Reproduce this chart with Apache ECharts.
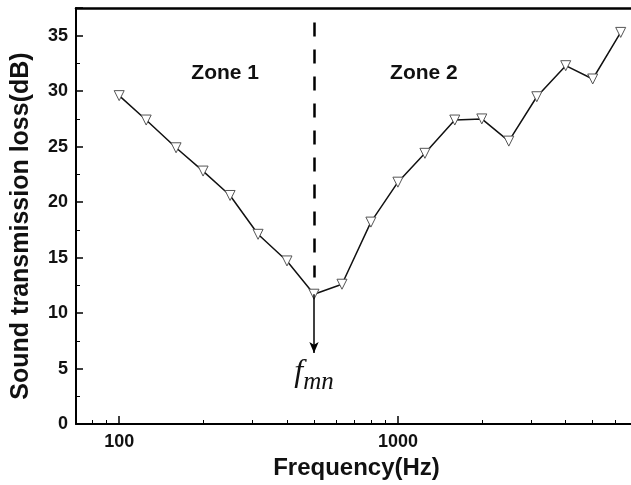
<!DOCTYPE html>
<html>
<head>
<meta charset="utf-8">
<style>
  html, body { margin: 0; padding: 0; background: #fff; }
  #main { width: 631px; height: 485px; }
</style>
<script src="https://cdn.jsdelivr.net/npm/echarts@6/dist/echarts.min.js"></script>
</head>
<body>
<div id="main"></div>
<script>
// 1/3 octave band centre frequencies (Hz)
var frequencies = [100, 125, 160, 200, 250, 315, 400, 500, 630, 800, 1000, 1250, 1600, 2000, 2500, 3150, 4000, 5000, 6300];
// sound transmission loss (dB)
var transmissionLoss = [29.6, 27.4, 24.9, 22.8, 20.6, 17.1, 14.7, 11.7, 12.6, 18.2, 21.8, 24.4, 27.4, 27.5, 25.5, 29.5, 32.3, 31.1, 35.3];

var xLabelValues = [100, 1000];
var xMinorTicks = [80, 90, 200, 300, 400, 500, 600, 700, 800, 900, 2000, 3000, 4000, 5000, 6000];

var fmn = 500;            // coincidence frequency marker
var dashTop = 36.2, dashBottom = 13.2;
var arrowTop = 11.7, arrowBottom = 6.4;
var fmnLabelY = 4.6;
var zones = [
    { name: 'Zone 1', freq: 240, y: 31.6 },
    { name: 'Zone 2', freq: 1240, y: 31.6 }
];

(function () {
    var chart = echarts.init(document.getElementById('main'), null, { renderer: 'canvas' });
    var fontFamily = '"Liberation Sans", Arial, sans-serif';

    var seriesData = frequencies.map(function (f, i) { return [f, transmissionLoss[i]]; });

    var xMin = 70, xMax = 6860;

    var option = {
        animation: false,
        backgroundColor: '#fff',
        grid: {
            left: 76, right: 0, top: 8, bottom: 61,
            show: false,
            containLabel: false
        },
        xAxis: [
            {
                type: 'log',
                logBase: 10,
                min: xMin,
                max: xMax,
                name: 'Frequency(Hz)',
                nameLocation: 'middle',
                nameGap: 31,
                nameTextStyle: { fontFamily: fontFamily, fontWeight: 'bold', fontSize: 24, color: '#111', padding: [0, 0, 0, 6] },
                axisLine: { show: true, lineStyle: { color: '#000', width: 2 } },
                axisTick: { show: true, inside: true, length: 4, customValues: xMinorTicks, lineStyle: { color: '#000', width: 1 } },
                axisLabel: {
                    show: true,
                    customValues: xLabelValues,
                    margin: 9,
                    fontFamily: fontFamily, fontWeight: 'bold', fontSize: 18, color: '#111',
                    formatter: function (v) { return String(Math.round(v)); }
                },
                splitLine: { show: false }
            },
            {
                type: 'log',
                logBase: 10,
                min: xMin,
                max: xMax,
                position: 'bottom',
                gridIndex: 0,
                axisLine: { show: false },
                axisTick: { show: true, inside: true, length: 8, customValues: xLabelValues, lineStyle: { color: '#000', width: 1.5 } },
                axisLabel: { show: false },
                splitLine: { show: false }
            },
            {
                type: 'log',
                logBase: 10,
                min: xMin,
                max: xMax,
                position: 'top',
                gridIndex: 0,
                axisLine: { show: true, lineStyle: { color: '#000', width: 2.5 } },
                axisTick: { show: false },
                axisLabel: { show: false },
                splitLine: { show: false }
            }
        ],
        yAxis: {
            type: 'value',
            min: 0,
            max: 37.5,
            interval: 5,
            name: 'Sound transmission loss(dB)',
            nameLocation: 'middle',
            nameGap: 42,
            nameTextStyle: { fontFamily: fontFamily, fontWeight: 'bold', fontSize: 25, color: '#111', padding: [0, 20, 0, 0] },
            axisLine: { show: true, lineStyle: { color: '#000', width: 2 } },
            axisTick: { show: true, inside: true, length: 7, lineStyle: { color: '#000', width: 1.5 } },
            minorTick: { show: true, splitNumber: 2, length: 4, lineStyle: { color: '#000', width: 1 } },
            axisLabel: {
                showMaxLabel: false,
                margin: 8,
                fontFamily: fontFamily, fontWeight: 'bold', fontSize: 18, color: '#111'
            },
            splitLine: { show: false }
        },
        series: [
            {
                type: 'line',
                data: seriesData,
                symbol: 'triangle',
                symbolRotate: 180,
                symbolSize: 10,
                showAllSymbol: true,
                lineStyle: { color: '#111', width: 1.5 },
                itemStyle: { color: '#fff', borderColor: '#555', borderWidth: 1 },
                z: 3,
                markLine: {
                    silent: true,
                    animation: false,
                    label: { show: false },
                    data: [
                        [
                            { coord: [fmn, dashTop], symbol: 'none', lineStyle: { type: [14, 13], width: 2.5, color: '#000' } },
                            { coord: [fmn, dashBottom], symbol: 'none' }
                        ],
                        [
                            { coord: [fmn, arrowTop], symbol: 'none', lineStyle: { type: 'solid', width: 1.5, color: '#000' } },
                            { coord: [fmn, arrowBottom], symbol: 'arrow', symbolSize: [7, 11] }
                        ]
                    ]
                },
                markPoint: {
                    silent: true,
                    animation: false,
                    symbol: 'circle',
                    symbolSize: 0,
                    data: zones.map(function (z) {
                        return {
                            coord: [z.freq, z.y],
                            label: {
                                show: true, position: 'inside', formatter: z.name,
                                fontFamily: fontFamily, fontWeight: 'bold', fontSize: 21, color: '#111'
                            }
                        };
                    }).concat([{
                        coord: [fmn, fmnLabelY],
                        label: {
                            show: true, position: 'inside',
                            formatter: '{f|f}{s|mn}',
                            rich: {
                                f: { fontFamily: '"Liberation Serif", serif', fontStyle: 'italic', fontSize: 32, color: '#111', verticalAlign: 'bottom' },
                                s: { fontFamily: '"Liberation Serif", serif', fontStyle: 'italic', fontSize: 25, color: '#111', padding: [0, 0, -6, 0], verticalAlign: 'bottom' }
                            }
                        }
                    }])
                }
            }
        ]
    };

    option && chart.setOption(option);
})();
</script>
</body>
</html>
